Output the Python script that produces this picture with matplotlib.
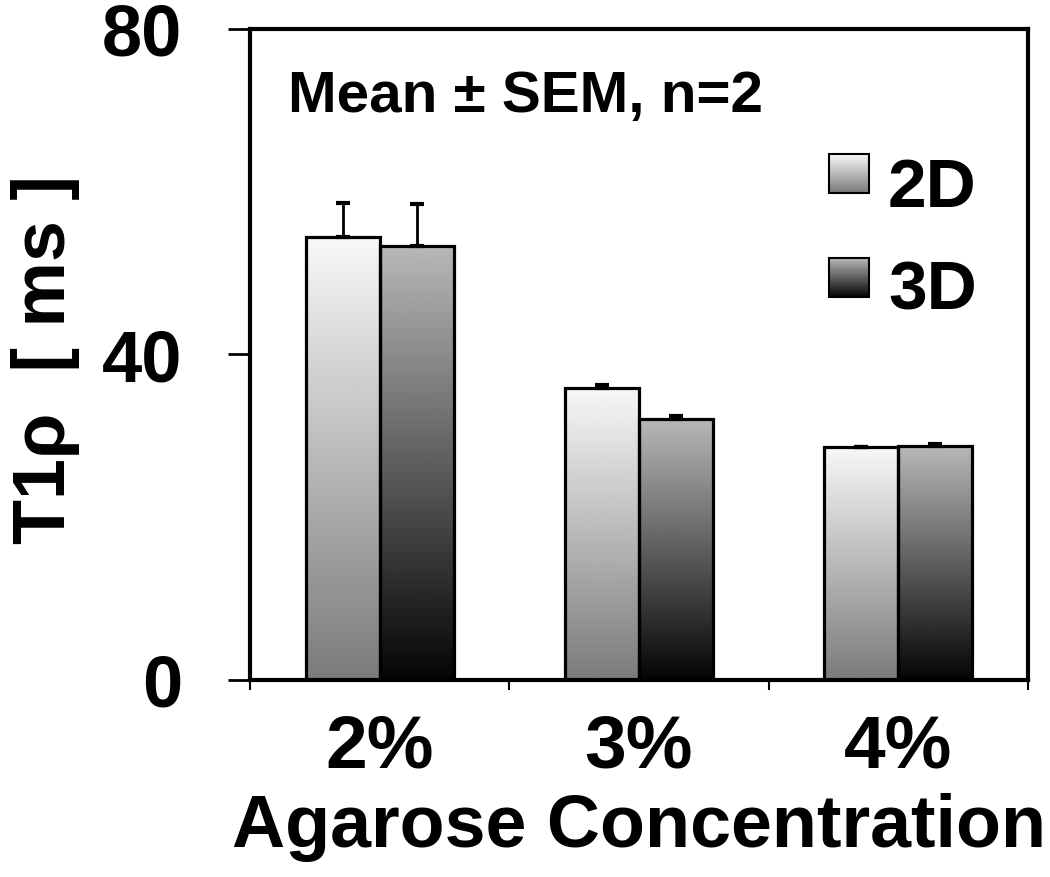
import numpy as np
import matplotlib
matplotlib.use("Agg")
import matplotlib.pyplot as plt
from matplotlib.patches import Rectangle

plt.rcParams['font.family'] = ['Liberation Sans', 'DejaVu Sans']
plt.rcParams['font.weight'] = 'bold'

categories = ["2%", "3%", "4%"]
series = ["2D", "3D"]
t1rho_2d = [54.4, 35.9, 28.6]
t1rho_3d = [53.3, 32.1, 28.7]
sem_2d = [4.2, 0.3, 0.0]
sem_3d = [5.2, 0.3, 0.3]

# gradient (top, bottom) grey levels for each series
grad = {"2D": (0.97, 0.48), "3D": (0.72, 0.02)}

W, H = 1050, 877
fig = plt.figure(figsize=(W/100, H/100), dpi=100)
# axes box in pixels: left 250, right 1028, top 29, bottom 680
ax = fig.add_axes([250/W, 1-680/H, 778/W, 651/H])

x = np.arange(len(categories))
w = 0.285


def grad_bars(xpos, vals, errs, name):
    top, bot = grad[name]
    img = np.linspace(top, bot, 256).reshape(-1, 1)
    bars = ax.bar(xpos, vals, w, color='none', edgecolor='black', linewidth=2.3, zorder=3)
    for b in bars:
        x0, y0 = b.get_x(), b.get_y()
        bw, bh = b.get_width(), b.get_height()
        im = ax.imshow(img, cmap='gray', vmin=0, vmax=1, aspect='auto',
                       extent=[x0, x0 + bw, y0, y0 + bh], zorder=2)
        im.set_clip_path(b)
    ax.errorbar(xpos, vals, yerr=[np.zeros(len(errs)), errs], fmt='none',
                ecolor='black', elinewidth=2, capsize=5, capthick=3, zorder=4)


grad_bars(x - w/2, t1rho_2d, sem_2d, "2D")
grad_bars(x + w/2, t1rho_3d, sem_3d, "3D")

ax.set_xlim(-0.5, 2.5)
ax.set_ylim(0, 80)
ax.set_yticks([0, 40, 80])
ax.set_yticklabels(["0", "40", "80"], fontsize=52, fontweight='bold')
ax.set_xticks(x)
ax.set_xticklabels(categories, fontsize=54, fontweight='bold')
ax.set_xticks([-0.5, 0.5, 1.5, 2.5], minor=True)
ax.tick_params(axis='x', which='major', length=0, pad=24)
ax.tick_params(axis='x', which='minor', length=7, width=1.5, direction='out')
ax.tick_params(axis='y', length=16, width=2, direction='out', pad=33)
for s in ax.spines.values():
    s.set_linewidth(3)

ax.set_ylabel("T1ρ  [ ms ]", fontsize=53, fontweight='bold')
ax.yaxis.set_label_coords(-(250 - 80)/778, (680 - 360)/651)
ax.set_xlabel("Agarose Concentration", fontsize=53, fontweight='bold', labelpad=8)

ax.text((288 - 250)/778, (680 - 70)/651, "Mean ± SEM, n=2", transform=ax.transAxes,
        fontsize=42, fontweight='bold', va='top', ha='left')

# legend swatches with gradient
box_tops = [154, 258]
text_base = [207, 309]
for i, name in enumerate(series):
    top, bot = grad[name]
    y_top = (680 - box_tops[i]) / 651
    bx, bw_, bh = (829 - 250) / 778, 40 / 778, 39 / 651
    img = np.linspace(top, bot, 64).reshape(-1, 1)
    r = Rectangle((bx, y_top - bh), bw_, bh, transform=ax.transAxes,
                  facecolor='none', edgecolor='black', linewidth=1.5, zorder=6)
    ax.add_patch(r)
    im = ax.imshow(img, cmap='gray', vmin=0, vmax=1, aspect='auto',
                   extent=[bx, bx + bw_, y_top - bh, y_top], transform=ax.transAxes, zorder=5)
    im.set_clip_path(r)
    ax.text((888 - 250)/778, (680 - text_base[i])/651, name, transform=ax.transAxes,
            fontsize=50, fontweight='bold', va='baseline', ha='left')

ax.set_xlim(-0.5, 2.5)
ax.set_ylim(0, 80)
fig.savefig("out.png", dpi=100)
